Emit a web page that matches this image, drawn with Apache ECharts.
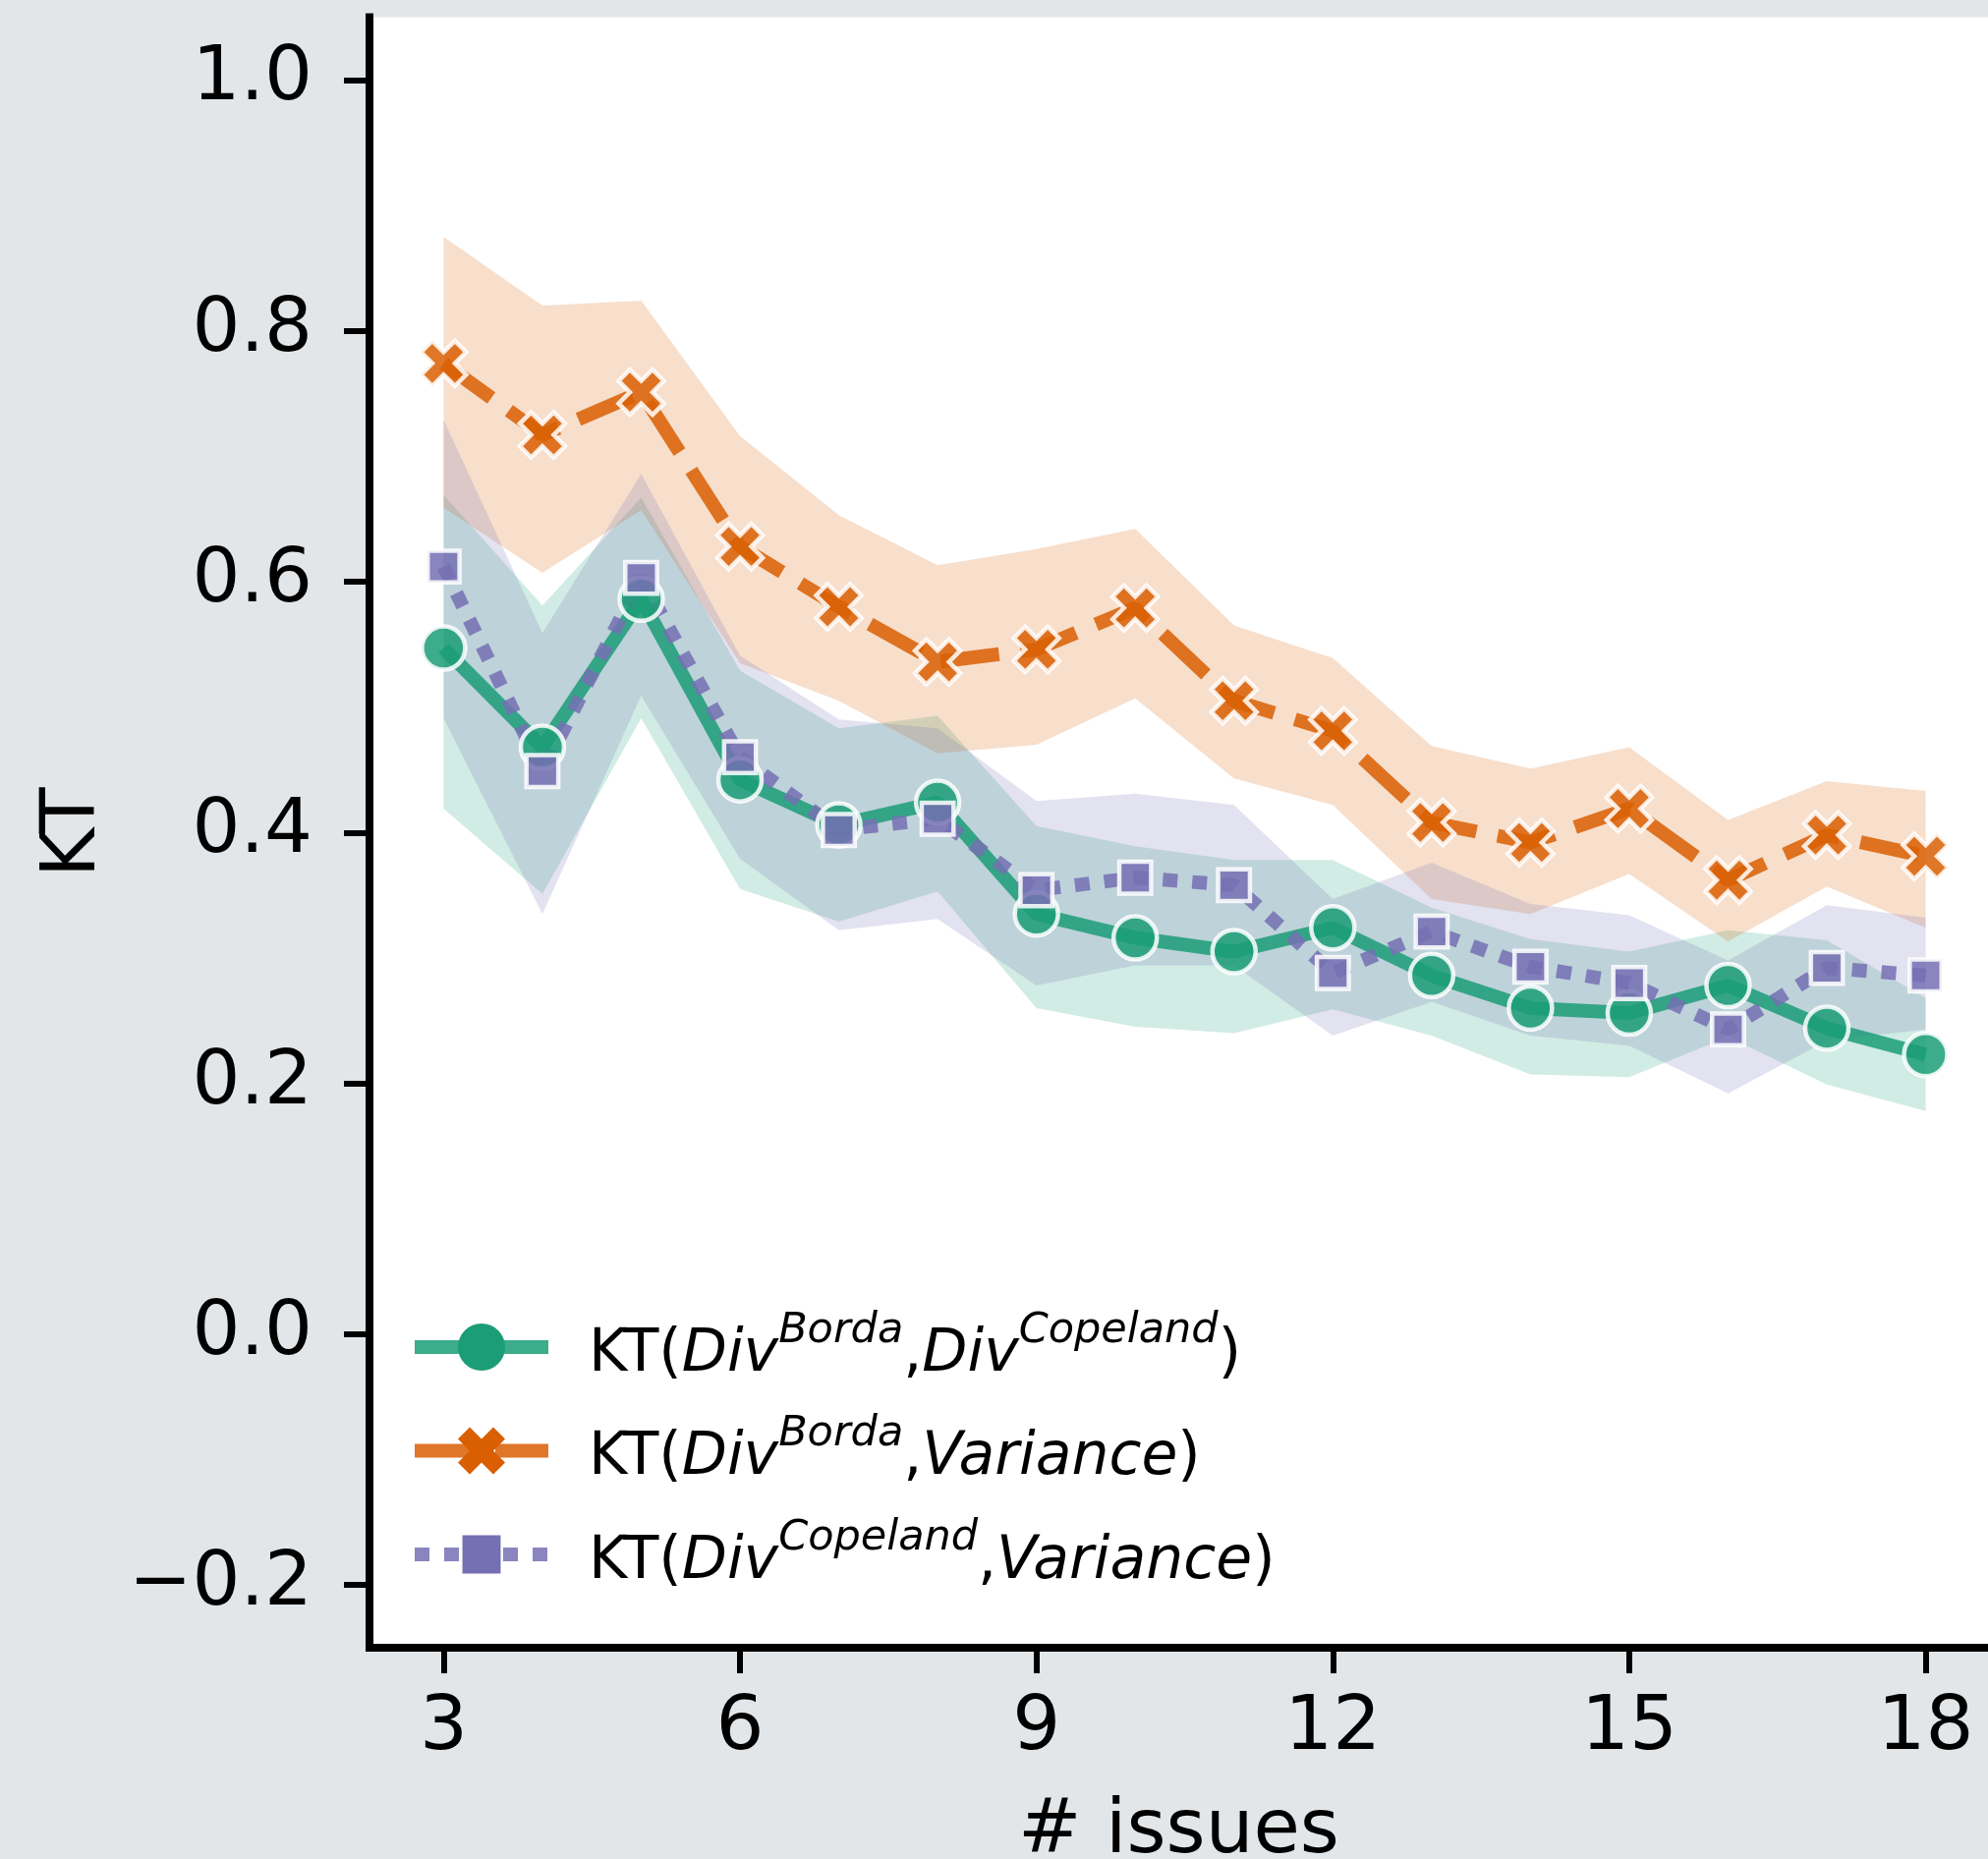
<!DOCTYPE html>
<html>
<head>
<meta charset="utf-8">
<script src="https://cdn.jsdelivr.net/npm/echarts@6/dist/echarts.min.js"></script>
<style>
  html, body { margin: 0; padding: 0; background: #e2e6e9; }
  #chart { width: 2023px; height: 1892px; }
</style>
</head>
<body>
<div id="chart"></div>
<script>
// ---------------- data ----------------
const issues = [3, 4, 5, 6, 7, 8, 9, 10, 11, 12, 13, 14, 15, 16, 17, 18];

const bordaCopeland   = [0.547, 0.468, 0.586, 0.442, 0.406, 0.424, 0.335, 0.316, 0.305, 0.324, 0.286, 0.260, 0.256, 0.278, 0.244, 0.223];
const bordaCopelandLo = [0.419, 0.351, 0.491, 0.355, 0.329, 0.353, 0.260, 0.245, 0.240, 0.259, 0.238, 0.207, 0.205, 0.237, 0.199, 0.178];
const bordaCopelandHi = [0.669, 0.581, 0.667, 0.529, 0.483, 0.493, 0.405, 0.389, 0.378, 0.378, 0.340, 0.315, 0.305, 0.322, 0.314, 0.268];

const bordaVariance   = [0.774, 0.717, 0.751, 0.628, 0.580, 0.536, 0.546, 0.579, 0.505, 0.481, 0.408, 0.392, 0.419, 0.362, 0.398, 0.381];
const bordaVarianceLo = [0.659, 0.607, 0.657, 0.535, 0.505, 0.463, 0.470, 0.507, 0.443, 0.422, 0.347, 0.335, 0.367, 0.313, 0.357, 0.324];
const bordaVarianceHi = [0.875, 0.820, 0.824, 0.716, 0.653, 0.613, 0.626, 0.642, 0.565, 0.539, 0.469, 0.451, 0.468, 0.410, 0.441, 0.433];

const copelandVariance   = [0.612, 0.449, 0.603, 0.460, 0.402, 0.411, 0.354, 0.364, 0.358, 0.288, 0.321, 0.293, 0.280, 0.243, 0.292, 0.286];
const copelandVarianceLo = [0.491, 0.335, 0.509, 0.379, 0.322, 0.331, 0.278, 0.294, 0.294, 0.238, 0.265, 0.238, 0.230, 0.192, 0.234, 0.243];
const copelandVarianceHi = [0.729, 0.559, 0.686, 0.541, 0.490, 0.483, 0.425, 0.431, 0.422, 0.347, 0.376, 0.343, 0.334, 0.298, 0.342, 0.332];

const xTicks = [3, 6, 9, 12, 15, 18];
const yTicks = [-0.2, 0.0, 0.2, 0.4, 0.6, 0.8, 1.0];

const seriesNames = ['KT(DivBorda,DivCopeland)', 'KT(DivBorda,Variance)', 'KT(DivCopeland,Variance)'];
const legendRich = {
  'KT(DivBorda,DivCopeland)': '{k|KT(}{i|Div}{s|Borda}{n|,}{i|Div}{s|Copeland}{n|)}',
  'KT(DivBorda,Variance)':    '{k|KT(}{i|Div}{s|Borda}{n|,}{i|Variance}{n|)}',
  'KT(DivCopeland,Variance)': '{k|KT(}{i|Div}{s|Copeland}{n|,}{i|Variance}{n|)}'
};

// ---------------- styling ----------------
const FONT = 'DejaVu Sans';
const GREEN = '#1b9e77', ORANGE = '#d95f02', PURPLE = '#7570b3';
const X_PATH = 'path://M75,0L100,25L75,50L100,75L75,100L50,75L25,100L0,75L25,50L0,25L25,0L50,25Z';
const SQ_PATH = 'path://M0,0M100,100M9.5,9.5L90.5,9.5L90.5,90.5L9.5,90.5Z';

function bandSeries(lo, hi, rgba) {
  return {
    type: 'custom',
    silent: true,
    z: 1,
    data: issues.map((x, i) => [x, lo[i], hi[i]]),
    encode: { x: 0, y: [1, 2] },
    renderItem: function (params, api) {
      if (params.dataIndex !== 0) return null;
      const pts = [];
      for (let i = 0; i < issues.length; i++) pts.push(api.coord([issues[i], hi[i]]));
      for (let i = issues.length - 1; i >= 0; i--) pts.push(api.coord([issues[i], lo[i]]));
      return { type: 'polygon', shape: { points: pts }, style: { fill: rgba, stroke: null } };
    }
  };
}

function lineSeries(name, vals, color, symbol, size, dash) {
  return {
    name: name,
    type: 'line',
    z: 3,
    data: issues.map((x, i) => [x, vals[i]]),
    symbol: symbol,
    symbolSize: size,
    showSymbol: true,
    showAllSymbol: true,
    lineStyle: { color: color, width: 14, type: dash, opacity: 0.85, cap: 'butt' },
    itemStyle: { color: color, borderColor: '#ffffff', borderWidth: 4.5, opacity: 0.85 },
    emphasis: { disabled: true }
  };
}

const chart = echarts.init(document.getElementById('chart'), null, { renderer: 'canvas' });

const axisLineStyle = { color: '#000', width: 8, cap: 'square' };
const tickStyle = { color: '#000', width: 6 };
const labelStyle = { fontSize: 77, color: '#000', fontFamily: FONT };

chart.setOption({
  backgroundColor: '#e2e6e9',
  animation: false,
  grid: {
    left: 376, top: 17.5, width: 1647, height: 1659.5,
    outerBoundsMode: 'none',
    show: true, backgroundColor: '#ffffff', borderWidth: 0, containLabel: false
  },
  xAxis: {
    type: 'value', min: 2.25, max: 18.631,
    axisLine: { show: true, onZero: false, lineStyle: axisLineStyle },
    axisTick: { show: true, customValues: xTicks, length: 26, lineStyle: tickStyle },
    axisLabel: Object.assign({ customValues: xTicks, margin: 44, formatter: v => String(v) }, labelStyle),
    splitLine: { show: false },
    name: '# issues', nameLocation: 'middle', nameGap: 149,
    nameTextStyle: labelStyle
  },
  yAxis: {
    type: 'value', min: -0.25, max: 1.05,
    axisLine: { show: true, onZero: false, lineStyle: axisLineStyle },
    axisTick: { show: true, customValues: yTicks, length: 26, lineStyle: tickStyle },
    axisLabel: Object.assign({
      customValues: yTicks, margin: 58,
      formatter: v => (v < -1e-9 ? '\u2212' : '') + Math.abs(v).toFixed(1)
    }, labelStyle),
    splitLine: { show: false },
    name: 'KT', nameLocation: 'middle', nameGap: 262, nameRotate: 90,
    nameTextStyle: labelStyle
  },
  legend: {
    data: seriesNames,
    orient: 'vertical',
    left: 415, top: 1333, padding: 0,
    itemWidth: 136, itemHeight: 60, itemGap: 29.5,
    selectedMode: false,
    lineStyle: { width: 14 },
    itemStyle: { borderWidth: 0, opacity: 1 },
    formatter: name => legendRich[name],
    textStyle: {
      color: '#000', fontFamily: FONT, fontSize: 60,
      rich: {
        k: { fontFamily: FONT, fontSize: 60, lineHeight: 76, verticalAlign: 'bottom', padding: [0, 0, 0, 36], color: '#000' },
        n: { fontFamily: FONT, fontSize: 60, lineHeight: 76, verticalAlign: 'bottom', color: '#000' },
        i: { fontFamily: FONT, fontSize: 60, fontStyle: 'italic', lineHeight: 76, verticalAlign: 'bottom', color: '#000' },
        s: { fontFamily: FONT, fontSize: 43, fontStyle: 'italic', lineHeight: 43, verticalAlign: 'top', color: '#000' }
      }
    }
  },
  series: [
    bandSeries(bordaCopelandLo, bordaCopelandHi, 'rgba(27,158,119,0.2)'),
    bandSeries(bordaVarianceLo, bordaVarianceHi, 'rgba(217,95,2,0.2)'),
    bandSeries(copelandVarianceLo, copelandVarianceHi, 'rgba(117,112,179,0.2)'),
    lineSeries(seriesNames[0], bordaCopeland, GREEN, 'circle', 44, 'solid'),
    lineSeries(seriesNames[1], bordaVariance, ORANGE, X_PATH, 46, [60, 22]),
    lineSeries(seriesNames[2], copelandVariance, PURPLE, SQ_PATH, 40, [15, 15])
  ]
});
</script>
</body>
</html>
